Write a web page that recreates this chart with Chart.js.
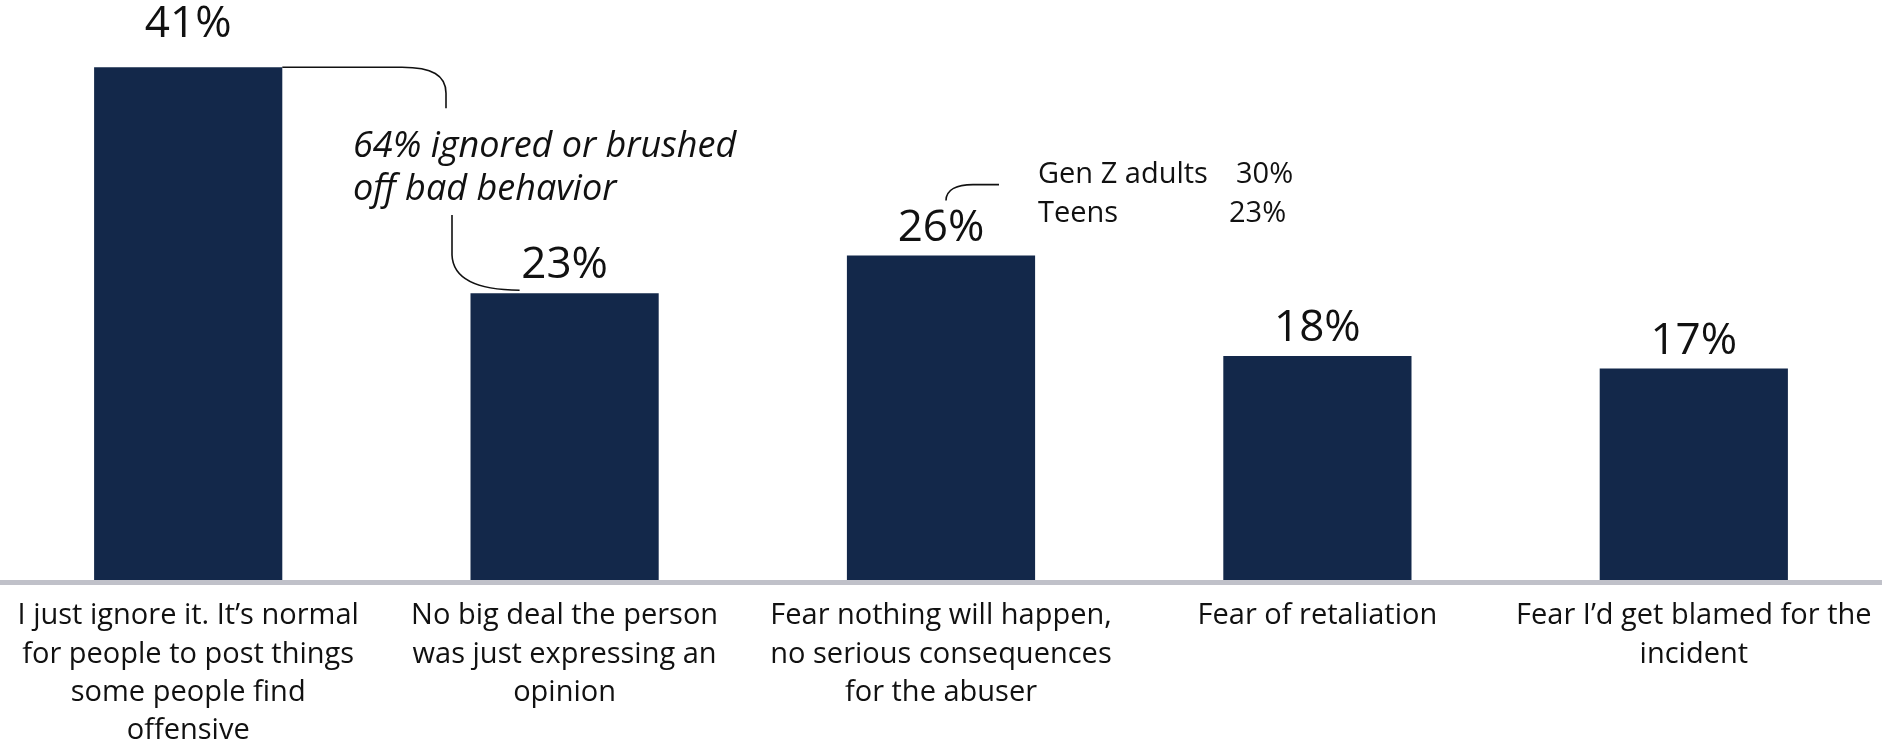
<!DOCTYPE html>
<html>
<head>
<meta charset="utf-8">
<script src="https://cdn.jsdelivr.net/npm/chart.js@4.4.0/dist/chart.umd.min.js"></script>
<style>
    html, body { margin: 0; padding: 0; background: #fff; }
    #wrap { width: 1882px; height: 743px; position: relative; }
</style>
</head>
<body>
<div id="wrap"><canvas id="chart"></canvas></div>
<script>
// --- Data ---
const categories = [
    ['I just ignore it. It’s normal', 'for people to post things', 'some people find', 'offensive'],
    ['No big deal the person', 'was just expressing an', 'opinion'],
    ['Fear nothing will happen,', 'no serious consequences', 'for the abuser'],
    ['Fear of retaliation'],
    ['Fear I’d get blamed for the', 'incident']
];
const values = [41, 23, 26, 18, 17];
const valueLabels = ['41%', '23%', '26%', '18%', '17%'];
const noteLines = ['64% ignored or brushed', 'off bad behavior'];
const splitLabels = ['Gen Z adults', 'Teens'];
const splitValues = ['30%', '23%'];

const FONT = '"Open Sans"';
const INK = '#111';

// --- Annotation plugin: value labels, callout brackets and notes ---
const annotations = {
    id: 'annotations',
    afterDatasetsDraw(chart) {
        const ctx = chart.ctx;
        const bars = chart.getDatasetMeta(0).data;
        ctx.save();
        ctx.fillStyle = INK;
        ctx.textBaseline = 'alphabetic';

        // value labels above bars
        ctx.textAlign = 'center';
        ctx.font = `44px ${FONT}`;
        bars.forEach((b, i) => {
            const lift = i === 0 ? 30 : 15;
            ctx.fillText(valueLabels[i], b.x, b.y - lift);
        });

        // brackets
        ctx.strokeStyle = INK;
        ctx.lineWidth = 1.6;
        const b0 = bars[0], b1 = bars[1], b2 = bars[2];

        ctx.beginPath();
        ctx.moveTo(b0.x + b0.width / 2, b0.y);
        ctx.lineTo(402, b0.y);
        ctx.bezierCurveTo(432, b0.y, 446, b0.y + 8, 446, b0.y + 26);
        ctx.lineTo(446, b0.y + 41);
        ctx.stroke();

        ctx.beginPath();
        ctx.moveTo(452, 215);
        ctx.lineTo(452, 255);
        ctx.bezierCurveTo(453, 280, 480, 290, b1.x - 45, b1.y - 3);
        ctx.stroke();

        ctx.beginPath();
        ctx.moveTo(b2.x + 5, b2.y - 55);
        ctx.bezierCurveTo(b2.x + 5, b2.y - 66, b2.x + 16, b2.y - 71, b2.x + 32, b2.y - 71);
        ctx.lineTo(b2.x + 58, b2.y - 71);
        ctx.stroke();

        // italic note
        ctx.textAlign = 'left';
        ctx.font = `italic 36px ${FONT}`;
        noteLines.forEach((t, i) => ctx.fillText(t, 353, 157 + i * 43));

        // generation split
        ctx.font = `29px ${FONT}`;
        splitLabels.forEach((t, i) => ctx.fillText(t, 1038, 183 + i * 39));
        ctx.fillText(splitValues[0], 1236, 183);
        ctx.fillText(splitValues[1], 1229, 222);

        ctx.restore();
    }
};

function draw() {
    new Chart(document.getElementById('chart'), {
        type: 'bar',
        data: {
            labels: categories,
            datasets: [{
                data: values,
                backgroundColor: '#13284a',
                barPercentage: 0.5,
                categoryPercentage: 1
            }]
        },
        options: {
            responsive: true,
            maintainAspectRatio: false,
            animation: false,
            layout: { padding: { top: 2, left: 0, right: 0, bottom: 0 } },
            plugins: { legend: { display: false }, tooltip: { enabled: false } },
            scales: {
                x: {
                    grid: { display: false, drawTicks: false },
                    border: { display: true, color: '#c0c1c9', width: 5, z: 1 },
                    ticks: {
                        color: INK,
                        font: { family: FONT, size: 29, lineHeight: 1.32 },
                        padding: 15,
                        maxRotation: 0,
                        autoSkip: false
                    },
                    afterFit(scale) {
                        scale.height = 161;
                        // let the last label run to the edge like the original
                        scale.paddingLeft = 0;
                        scale.paddingRight = 0;
                    }
                },
                y: { display: false, min: 0, max: 46.2 }
            }
        },
        plugins: [annotations]
    });
}

Promise.all([
    document.fonts.load(`29px ${FONT}`),
    document.fonts.load(`italic 36px ${FONT}`)
]).then(draw, draw);
</script>
</body>
</html>
